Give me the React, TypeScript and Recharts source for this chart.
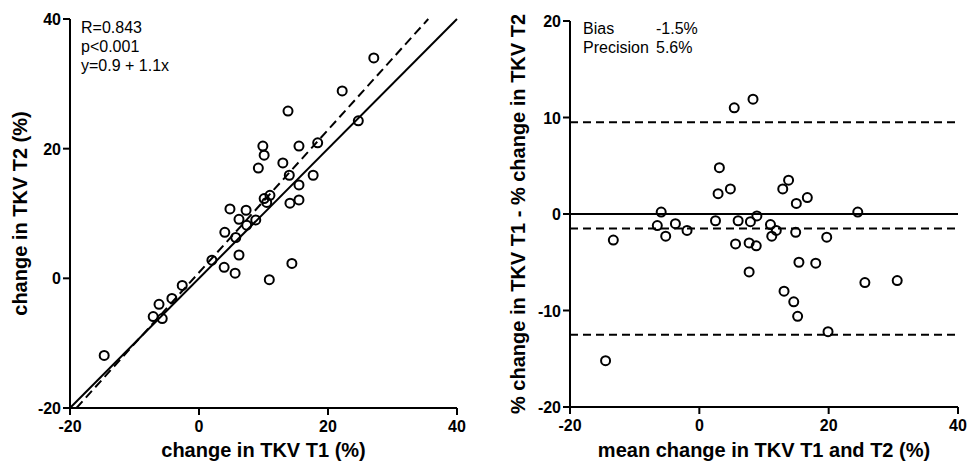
import React from 'react';
import {
  ScatterChart, Scatter, XAxis, YAxis, ReferenceLine,
} from 'recharts';

// left panel: change in TKV at T1 vs T2 (%)
const t1Change = [
  27.1, 22.2, 13.8, 24.7, 9.9, 10.1, 15.5, 18.4, 9.2, 13.0, 14.0, 17.7, 15.5,
  10.1, 11.0, 10.5, 14.1, 15.5, 4.8, 7.3, 6.2, 8.8, 7.4, 4.0, 5.7, 2.0, 6.2,
  3.9, 5.6, 14.4, 10.9, -2.6, -4.2, -6.2, -7.1, -5.7, -14.7,
];
const t2Change = [
  34.0, 28.9, 25.8, 24.3, 20.4, 19.0, 20.4, 20.9, 17.0, 17.8, 15.9, 15.9, 14.4,
  12.3, 12.8, 11.7, 11.6, 12.1, 10.7, 10.5, 9.1, 9.0, 8.2, 7.1, 6.3, 2.8, 3.6,
  1.7, 0.8, 2.3, -0.2, -1.1, -3.1, -4.0, -5.9, -6.2, -11.9,
];

// right panel: Bland-Altman
const meanChange = [
  5.4, 8.3, 3.1, 2.9, 4.8, 12.9, 13.8, 15.0, 16.7, -5.9, 24.5, -6.5, -3.7,
  -5.2, -1.9, 2.5, 6.0, 7.9, 8.9, 11.0, 11.9, 11.2, 14.9, 19.7, -13.3, 5.6,
  7.7, 8.8, 7.7, 15.4, 18.0, 25.6, 30.6, 13.1, 14.6, 15.2, 19.9, -14.5,
];
const diffChange = [
  11.0, 11.9, 4.8, 2.1, 2.6, 2.6, 3.5, 1.1, 1.7, 0.2, 0.2, -1.2, -1.0,
  -2.3, -1.7, -0.7, -0.7, -0.8, -0.2, -1.1, -1.7, -2.3, -1.9, -2.4, -2.7, -3.1,
  -3.0, -3.3, -6.0, -5.0, -5.1, -7.1, -6.9, -8.0, -9.1, -10.6, -12.2, -15.2,
];

const xTicks = [-20, 0, 20, 40];
const leftYTicks = [-20, 0, 20, 40];
const rightYTicks = [-20, -10, 0, 10, 20];

const regIntercept = 0.9;
const regSlope = 1.1;
const bias = -1.5;
const upperLimit = 9.5;
const lowerLimit = -12.5;

const leftData = t1Change.map((x, i) => ({ x, y: t2Change[i] }));
const rightData = meanChange.map((x, i) => ({ x, y: diffChange[i] }));

const FONT = '"Liberation Sans", Arial, sans-serif';
const axisLine = { stroke: '#000', strokeWidth: 2 };
const titleStyle = {
  fill: '#000', fontSize: 20, fontWeight: 'bold', fontFamily: FONT, textAnchor: 'middle',
};
const tickText: React.CSSProperties = {
  fontSize: 16, fontWeight: 700, fontFamily: FONT, fill: '#000',
};

// bold tick labels, drawn by hand so the font sticks
const renderXTick = (props: any) => (
  <text key={props.index} x={props.x} y={props.y} dy={14} textAnchor="middle" style={tickText}>
    {props.payload.value}
  </text>
);
const renderYTick = (props: any) => (
  <text key={props.index} x={props.x} y={props.y} dy={6} textAnchor="end" style={tickText}>
    {props.payload.value}
  </text>
);

const OpenCircle = (props: any) => (
  <circle cx={props.cx} cy={props.cy} r={4.5} fill="none" stroke="#000" strokeWidth={2} />
);

const noteStyle: React.CSSProperties = {
  position: 'absolute', fontFamily: FONT, fontSize: 16, lineHeight: '19px', color: '#000', whiteSpace: 'pre',
};

export default function App() {
  const xAt = (y: number) => (y - regIntercept) / regSlope;
  return (
    <div style={{ position: 'absolute', left: 0, top: 0, width: 969, height: 464, background: '#fff' }}>
      <div style={{ position: 'absolute', left: 0, top: 0 }}>
        <ScatterChart width={470} height={464} margin={{ top: 19, right: 13, bottom: 0, left: 0 }}>
          <XAxis
            type="number" dataKey="x" domain={[-20, 40]} ticks={xTicks} allowDataOverflow
            height={56} tickSize={7} tickMargin={3} tick={renderXTick}
            axisLine={axisLine} tickLine={axisLine}
            label={{ value: 'change in TKV T1 (%)', position: 'insideBottom', offset: 7, style: titleStyle }}
          />
          <YAxis
            type="number" dataKey="y" domain={[-20, 40]} ticks={leftYTicks} allowDataOverflow
            width={70} tickSize={7} tickMargin={2} tick={renderYTick}
            axisLine={axisLine} tickLine={axisLine}
            label={{ value: 'change in TKV T2 (%)', angle: -90, position: 'insideLeft', offset: 20, style: titleStyle }}
          />
          <ReferenceLine segment={[{ x: -20, y: -20 }, { x: 40, y: 40 }]} stroke="#000" strokeWidth={2} />
          <ReferenceLine
            segment={[{ x: xAt(-20), y: -20 }, { x: xAt(40), y: 40 }]}
            stroke="#000" strokeWidth={2} strokeDasharray="9 5"
          />
          <Scatter data={leftData} shape={OpenCircle} isAnimationActive={false} />
        </ScatterChart>
      </div>
      <div style={{ ...noteStyle, left: 81, top: 18 }}>
        {'R=0.843\np<0.001\ny=0.9 + 1.1x'}
      </div>

      <div style={{ position: 'absolute', left: 480, top: 0 }}>
        <ScatterChart width={489} height={464} margin={{ top: 21, right: 11, bottom: 0, left: 0 }}>
          <XAxis
            type="number" dataKey="x" domain={[-20, 40]} ticks={xTicks} allowDataOverflow
            height={57} tickSize={7} tickMargin={3} tick={renderXTick}
            axisLine={axisLine} tickLine={axisLine}
            label={{ value: 'mean change in TKV T1 and T2 (%)', position: 'insideBottom', offset: 7, style: titleStyle }}
          />
          <YAxis
            type="number" dataKey="y" domain={[-20, 20]} ticks={rightYTicks} allowDataOverflow
            width={90} tickSize={7} tickMargin={2} tick={renderYTick}
            axisLine={axisLine} tickLine={axisLine}
            label={{ value: '% change in TKV T1 - % change in TKV T2', angle: -90, position: 'insideLeft', offset: 38, style: titleStyle }}
          />
          <ReferenceLine y={0} stroke="#000" strokeWidth={2} />
          <ReferenceLine y={bias} stroke="#000" strokeWidth={2} strokeDasharray="8 5" />
          <ReferenceLine y={upperLimit} stroke="#000" strokeWidth={2} strokeDasharray="8 5" />
          <ReferenceLine y={lowerLimit} stroke="#000" strokeWidth={2} strokeDasharray="8 5" />
          <Scatter data={rightData} shape={OpenCircle} isAnimationActive={false} />
        </ScatterChart>
      </div>
      <div style={{ ...noteStyle, left: 583, top: 19 }}>Bias</div>
      <div style={{ ...noteStyle, left: 656, top: 19 }}>-1.5%</div>
      <div style={{ ...noteStyle, left: 583, top: 38 }}>Precision</div>
      <div style={{ ...noteStyle, left: 656, top: 38 }}>5.6%</div>
    </div>
  );
}
